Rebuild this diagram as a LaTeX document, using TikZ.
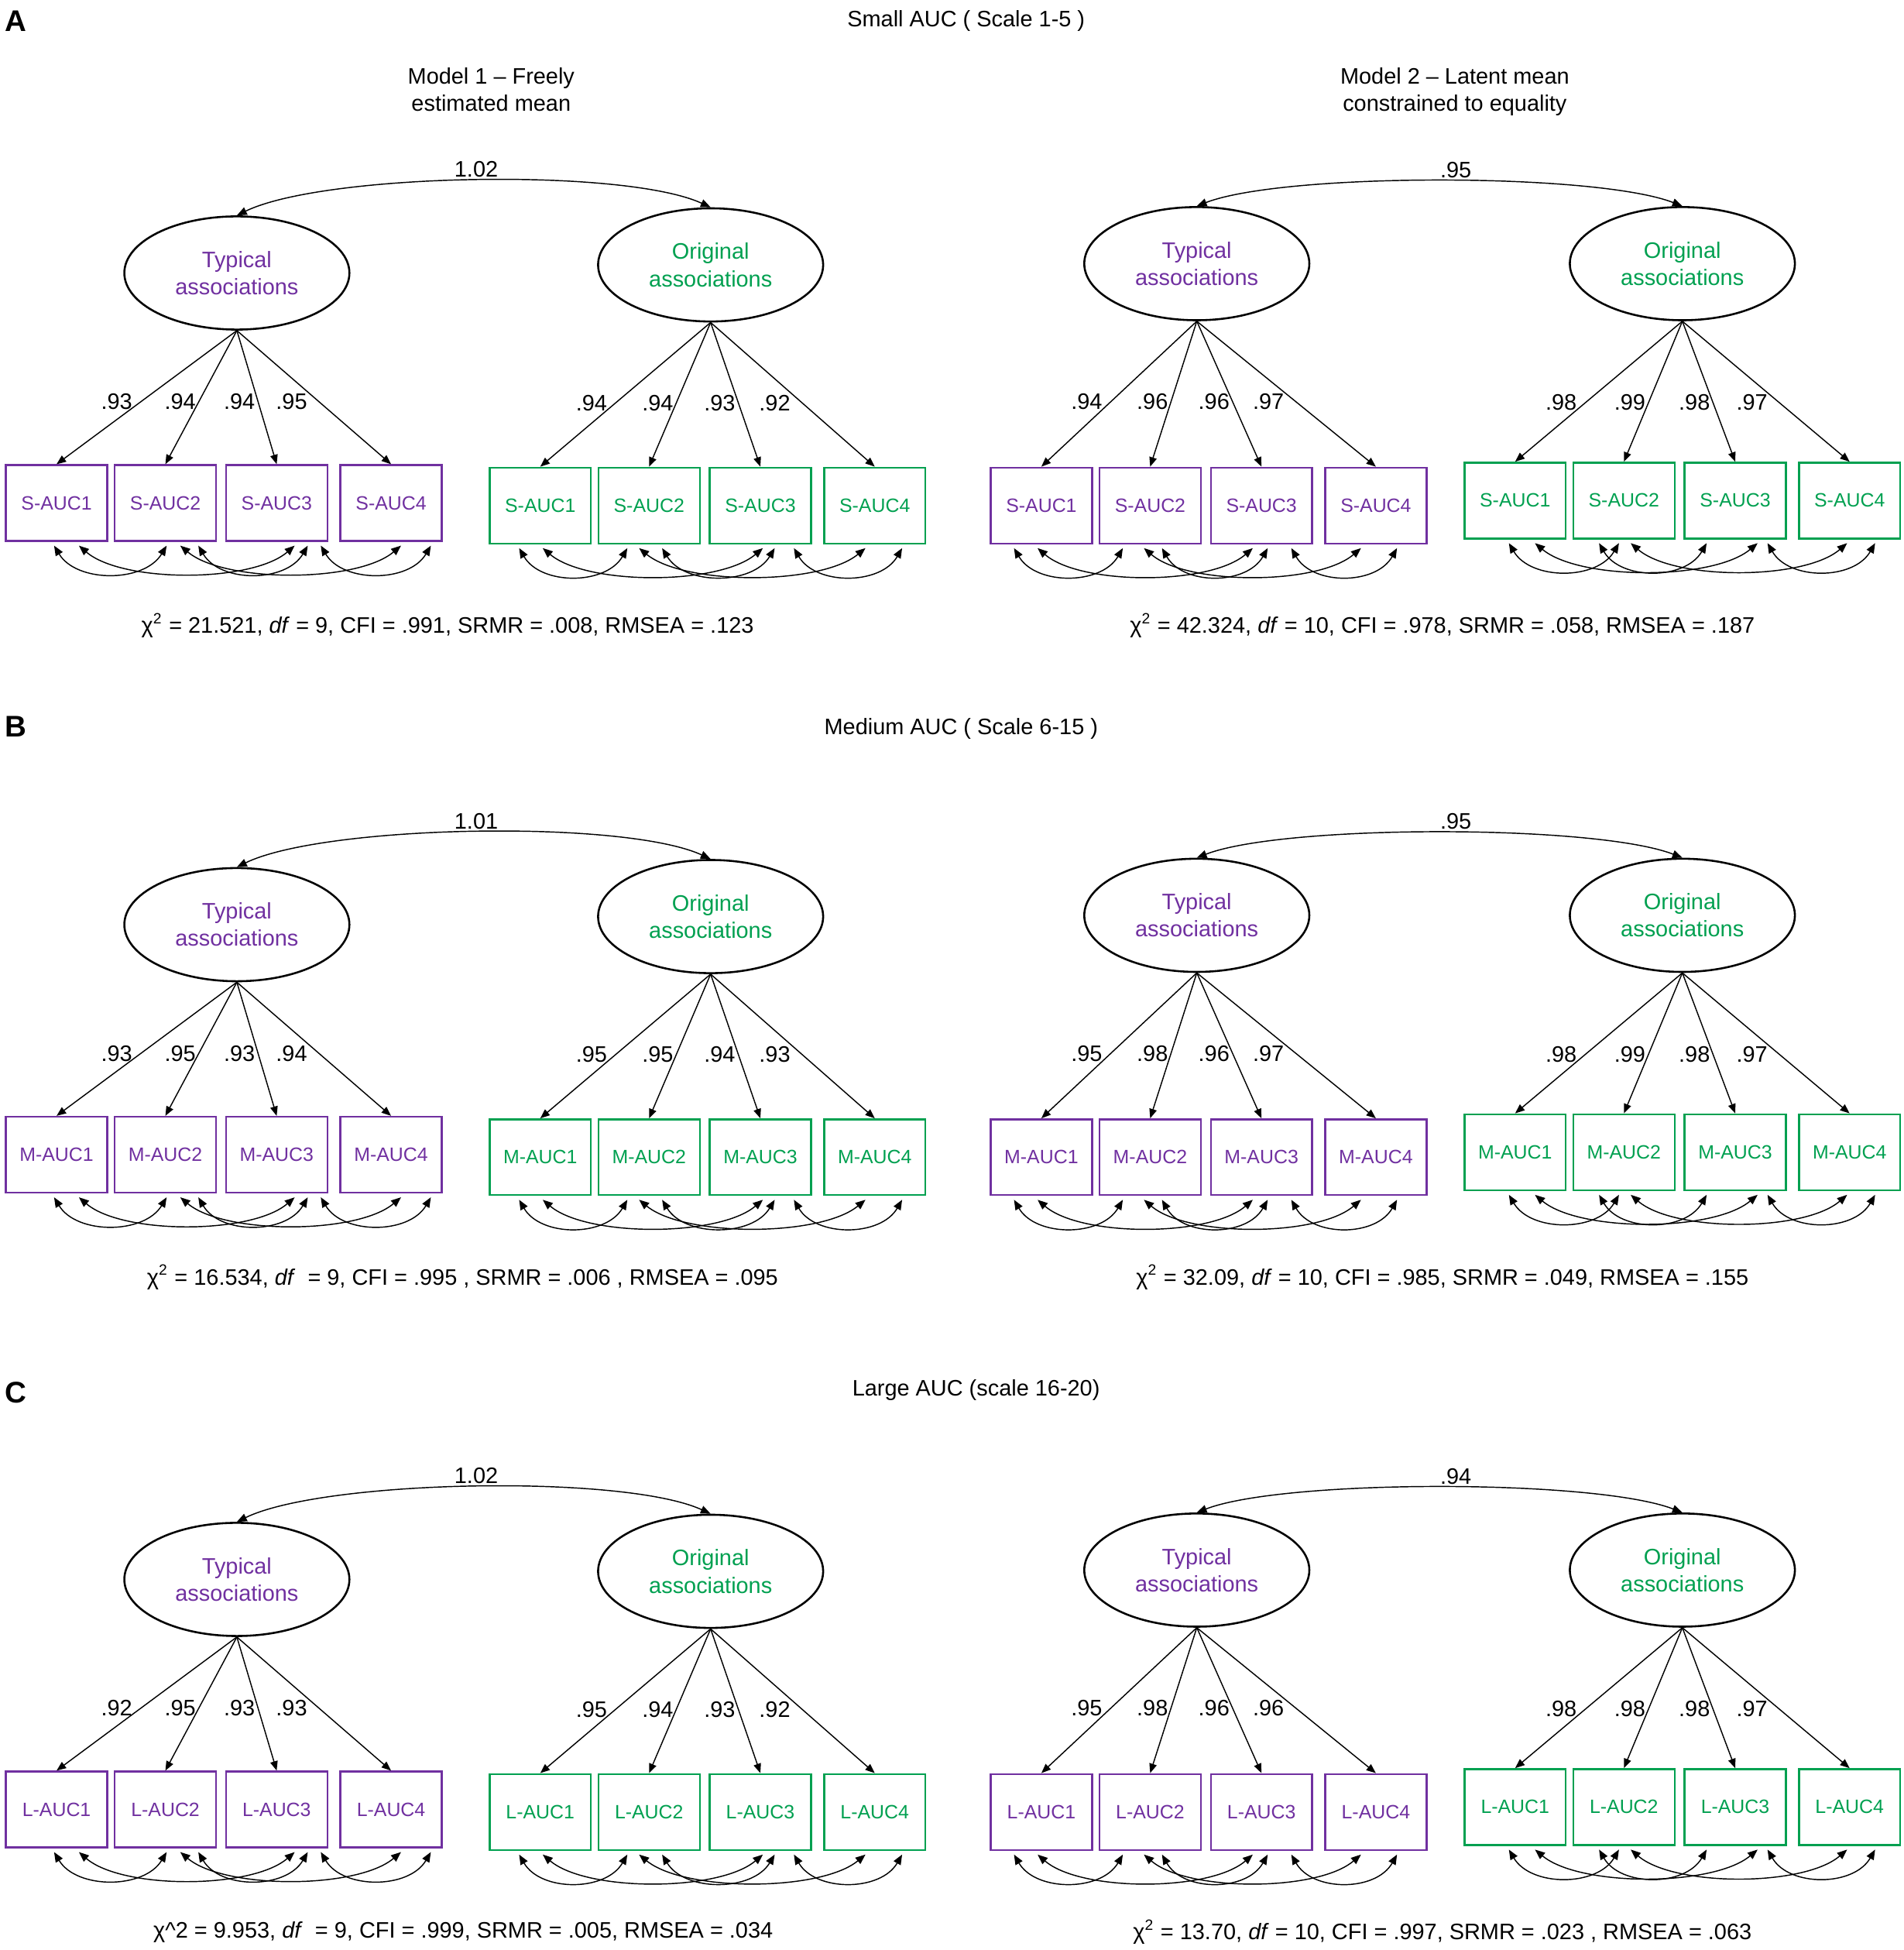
\documentclass[tikz,border=0pt]{standalone}
\usepackage{fontspec}
\setmainfont{Liberation Sans}
\usetikzlibrary{arrows.meta,shapes.geometric,calc}
\definecolor{typ}{RGB}{112,48,160}
\definecolor{orig}{RGB}{0,160,80}
\def\txtyp{Typical\\associations}
\def\txorig{Original\\associations}
\tikzset{
 semlat/.style={ellipse, draw=black, line width=0.8pt, minimum width=90.5pt, minimum height=45.5pt, inner sep=0pt, align=center, text=#1, font=\fontsize{9}{11}\selectfont},
 semobs/.style={rectangle, draw=#1, line width=0.75pt, minimum width=40.75pt, minimum height=30.5pt, inner sep=0pt, text=#1, font=\fontsize{7.75}{9}\selectfont},
 semload/.style={line width=0.45pt, -{Triangle[length=3.8pt,width=3pt]}},
 semcov/.style={line width=0.45pt, {Triangle[length=4pt,width=3.2pt]}-{Triangle[length=4pt,width=3.2pt]}},
 semlab/.style={font=\fontsize{9}{11}\selectfont, inner sep=0pt},
 semtxt/.style={font=\fontsize{9}{11}\selectfont, align=center, inner sep=0pt},
 semletter/.style={font=\fontsize{12}{14}\selectfont\bfseries, inner sep=0pt},
}
% #1 name, #2 colour (typ/orig), #3 ex, #4 ey, #5 box y, #6 box1 x, #7 prefix, #8 loadings, #9 label pos
\newcommand\semfactor[9]{%
 \node[semlat=#2] (#1) at (#3,#4) {\csname tx#2\endcsname};
 \foreach \dx [count=\i] in {0,87.5,177,269}
   \node[semobs=#2] (#1b\i) at (#6+\dx,#5) {#7-AUC\i};
 \foreach \v [count=\i] in {#8} {
   \pgfmathsetmacro\sh{{-9.75,-7.5,-7.5,-11}[\i-1]}
   \draw[semload] (#1.south) -- node[semlab,pos=#9,xshift=\sh pt] (#1l\i) {\v} (#1b\i.north);
 }
}
\newcommand\semresid[2]{%
 \foreach \i/\di/\j/\dj in #2 {
   \pgfmathsetmacro\cx{0.2*({0,87.5,177,269}[\j-1]-{0,87.5,177,269}[\i-1]+\dj-\di)}
   \draw[semcov] ([xshift=\di*0.5pt, yshift=-1.5pt]#1b\i.south) .. controls +(\cx,30) and +(-\cx,30) .. ([xshift=\dj*0.5pt, yshift=-1.5pt]#1b\j.south);
 }
}
\def\rMoneT{1/-2/2/1, 1/18/3/14.5, 2/12/4/8, 2/26.5/3/25, 3/35.5/4/32}
\def\rMoneO{1/-17/2/-17.5, 1/2/3/2, 2/-8/4/-7.5, 2/10.5/3/11.5, 3/27/4/22}
\def\rMtwoT{1/-22/2/-22, 1/-3/3/-7, 2/-5/4/-12, 2/9.5/3/5, 3/24/4/17}
\def\rMtwoO{1/-5/2/-4, 1/16/3/18, 2/-20/3/-23, 2/5.5/4/-2, 3/26/4/20.5}
% #1 from, #2 to, #3 label, #4 label name, #5 c1 dy, #6 c2 dy, #7 label xshift
\newcommand\semlcov[7]{%
 \draw[semcov] (#1.north) .. controls +(70,#5) and +(-70,#6) .. (#2.north) node[semlab, pos=0.5, anchor=south, inner sep=1pt, xshift=#7] (#4) {#3};}
\newcommand\sempanel[8]{% #1 panel, #2 letter prefix, #3..#6 loadings, #7 cov1, #8 cov2
 \semfactor{#1T1}{typ}{190.5}{219.5}{404.5}{45.5}{#2}{#3}{0.532}
 \semfactor{#1O1}{orig}{571.5}{213}{406.5}{434.5}{#2}{#4}{0.557}
 \semfactor{#1T2}{typ}{962.5}{212}{406.5}{837.5}{#2}{#5}{0.553}
 \semfactor{#1O2}{orig}{1353}{212}{402.5}{1218.5}{#2}{#6}{0.58}
 \semresid{#1T1}{\rMoneT}
 \semresid{#1O1}{\rMoneO}
 \semresid{#1T2}{\rMtwoT}
 \semresid{#1O2}{\rMtwoO}
 \semlcov{#1T1}{#1O1}{#7}{#1c1}{-34}{-32}{1pt}
 \semlcov{#1T2}{#1O2}{#8}{#1c2}{-27}{-27}{6.5pt}
}
\begin{document}
\begin{tikzpicture}[x=0.5pt,y=-0.5pt]
\useasboundingbox (0,0) rectangle (1531,1568);
% titles
\node[semletter] (letA) at (12.5,17) {A};
\node[semletter] (letB) at (12.5,584) {B};
\node[semletter] (letC) at (12.5,1120) {C};
\node[semtxt] (titA) at (777,17) {Small AUC ( Scale 1-5 )};
\node[semtxt] (titB) at (773,586) {Medium AUC ( Scale 6-15 )};
\node[semtxt] (titC) at (785,1118) {Large AUC (scale 16-20)};
\node[semtxt] (mod1) at (395,72) {Model 1 – Freely\\estimated mean};
\node[semtxt] (mod2) at (1170,74) {Model 2 – Latent mean\\constrained to equality};
% panel A
\sempanel{A}{S}{.93,.94,.94,.95}{.94,.94,.93,.92}{.94,.96,.96,.97}{.98,.99,.98,.97}{1.02}{.95}
\node[semtxt] (fitA1) at (360,503) {χ\textsuperscript{2} = 21.521, \textit{df} = 9, CFI = .991, SRMR = .008, RMSEA = .123};
\node[semtxt] (fitA2) at (1160,503) {χ\textsuperscript{2} = 42.324, \textit{df} = 10, CFI = .978, SRMR = .058, RMSEA = .187};
% panel B
\begin{scope}[yshift=-262pt]
\sempanel{B}{M}{.93,.95,.93,.94}{.95,.95,.94,.93}{.95,.98,.96,.97}{.98,.99,.98,.97}{1.01}{.95}
\node[semtxt] (fitB1) at (372,503) {χ\textsuperscript{2} = 16.534, \textit{df}\ \ = 9, CFI = .995 , SRMR = .006 , RMSEA = .095};
\node[semtxt] (fitB2) at (1160,503) {χ\textsuperscript{2} = 32.09, \textit{df} = 10, CFI = .985, SRMR = .049, RMSEA = .155};
\end{scope}
% panel C
\begin{scope}[yshift=-525.25pt]
\sempanel{C}{L}{.92,.95,.93,.93}{.95,.94,.93,.92}{.95,.98,.96,.96}{.98,.98,.98,.97}{1.02}{.94}
\node[semtxt] (fitC1) at (372.5,503) {χ\textasciicircum 2 = 9.953, \textit{df}\ \ = 9, CFI = .999, SRMR = .005, RMSEA = .034};
\node[semtxt] (fitC2) at (1160,503) {χ\textsuperscript{2} = 13.70, \textit{df} = 10, CFI = .997, SRMR = .023 , RMSEA = .063};
\end{scope}
\end{tikzpicture}
\end{document}
